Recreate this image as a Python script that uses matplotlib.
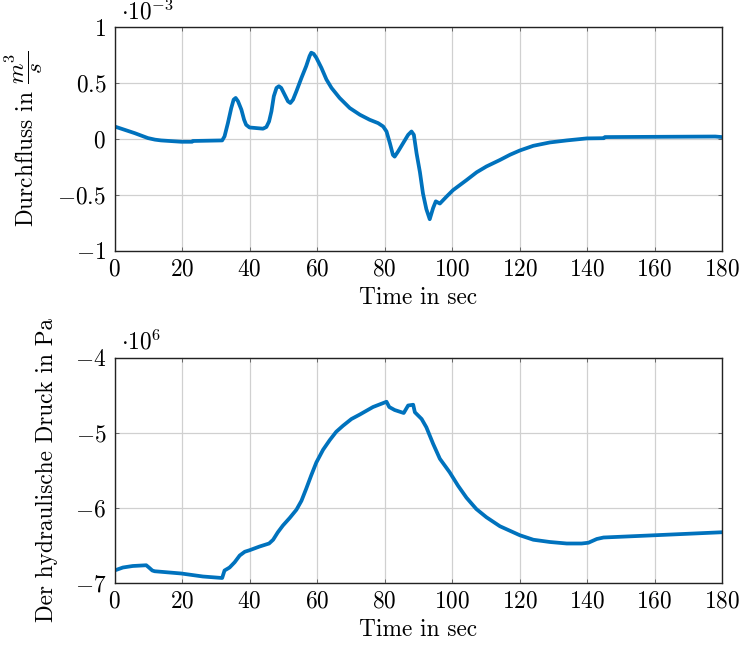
import matplotlib
matplotlib.use("Agg")
import matplotlib.pyplot as plt
from matplotlib.ticker import FuncFormatter

plt.rcParams['font.family'] = 'serif'
plt.rcParams['font.serif'] = ['cmr10']
plt.rcParams['mathtext.fontset'] = 'cm'
plt.rcParams['axes.formatter.use_mathtext'] = True

# Flow rate (units of 1e-3 m^3/s)
t_flow = [0, 3, 6, 9.9, 12.0, 13.8, 19.8, 23.0, 23.2, 31.9, 32.6, 33.6, 34.6, 35.3,
          35.9, 36.6, 37.6, 38.4, 39.0, 40.0, 44.0, 45.0, 45.8, 46.5, 47.2, 48.0,
          48.7, 49.4, 50.4, 51.4, 52.1, 52.9, 53.9, 55.4, 56.8, 57.8, 58.3, 59.0,
          59.8, 61.3, 62.8, 64.3, 66.7, 69.7, 72.7, 75.6, 78.1, 79.6, 80.6, 81.6,
          82.5, 83.0, 84.0, 85.5, 87.0, 88.0, 88.7, 89.5, 90.5, 91.4, 92.4, 93.4,
          94.4, 95.2, 96.4, 98.4, 100.3, 104.3, 107.3, 110.2, 114.2, 117.2, 120.1,
          124.1, 129.0, 134.0, 139.9, 145.0, 145.3, 178.0, 180.0]
flow = [0.11, 0.08, 0.05, 0.006, -0.008, -0.015, -0.027, -0.027, -0.02, -0.015,
        0.021, 0.14, 0.275, 0.35, 0.365, 0.335, 0.26, 0.17, 0.125, 0.101, 0.09,
        0.105, 0.155, 0.245, 0.38, 0.455, 0.47, 0.455, 0.395, 0.335, 0.32, 0.35,
        0.425, 0.545, 0.65, 0.74, 0.77, 0.76, 0.725, 0.635, 0.53, 0.455, 0.365,
        0.275, 0.215, 0.17, 0.14, 0.11, 0.065, -0.04, -0.145, -0.16, -0.115, -0.04,
        0.035, 0.065, 0.035, -0.13, -0.30, -0.49, -0.63, -0.72, -0.62, -0.56, -0.58,
        -0.517, -0.46, -0.37, -0.30, -0.248, -0.19, -0.143, -0.105, -0.063, -0.033,
        -0.015, 0.003, 0.005, 0.015, 0.02, 0.015]

# Hydraulic pressure (units of 1e6 Pa)
t_press = [0, 2.5, 5.4, 9.4, 10.2, 11.2, 11.9, 19.8, 26.2, 31.9, 32.6, 34.1, 35.6,
           37.1, 38.6, 40.0, 43.0, 45.8, 47.0, 48.4, 49.9, 51.9, 53.9, 55.4, 56.8,
           58.3, 59.8, 61.8, 63.8, 65.7, 67.7, 70.2, 72.7, 76.6, 80.6, 81.4, 83.0,
           85.7, 87.0, 88.5, 89.0, 91.0, 92.4, 94.4, 96.4, 99.3, 101.8, 104.3, 107.2,
           110.2, 114.2, 120.1, 124.1, 129.0, 134.0, 138.4, 140.4, 142.9, 144.9,
           160.1, 180.0]
press = [-6.84, -6.80, -6.78, -6.77, -6.80, -6.84, -6.85, -6.88, -6.92, -6.94, -6.84,
         -6.80, -6.73, -6.64, -6.59, -6.57, -6.52, -6.48, -6.43, -6.33, -6.24, -6.14,
         -6.03, -5.91, -5.75, -5.57, -5.40, -5.23, -5.10, -4.99, -4.91, -4.82, -4.76,
         -4.66, -4.59, -4.66, -4.70, -4.74, -4.64, -4.63, -4.73, -4.82, -4.93, -5.15,
         -5.35, -5.53, -5.71, -5.87, -6.02, -6.13, -6.25, -6.37, -6.43, -6.46, -6.48,
         -6.48, -6.47, -6.42, -6.40, -6.37, -6.33]

x_ticks = [0, 20, 40, 60, 80, 100, 120, 140, 160, 180]
flow_ticks = [-1, -0.5, 0, 0.5, 1]
press_ticks = [-7, -6, -5, -4]

color = '#0072BD'
fs = 16.8

W, H = 748, 647
fig = plt.figure(figsize=(W / 100, H / 100), dpi=100)


def fmt(v, pos):
    return r'$' + ('%g' % v) + r'$'


def style(ax):
    ax.grid(True, color='#d0d0d0', linewidth=0.9)
    ax.set_axisbelow(True)
    for sp in ax.spines.values():
        sp.set_color('#222222')
        sp.set_linewidth(1.0)
    ax.tick_params(direction='in', top=True, right=True, length=3,
                   labelsize=fs, color='#555555', width=0.6, pad=6)
    ax.xaxis.set_major_formatter(FuncFormatter(fmt))
    ax.yaxis.set_major_formatter(FuncFormatter(fmt))


ax1 = fig.add_axes([114.5 / W, 1 - 250.5 / H, 607.5 / W, 223.5 / H])
ax1.plot(t_flow, flow, color=color, linewidth=2.7, solid_joinstyle='round',
         solid_capstyle='round')
ax1.set_xlim(0, 180)
ax1.set_ylim(-1, 1)
ax1.set_xticks(x_ticks)
ax1.set_yticks(flow_ticks)
style(ax1)
ax1.set_xlabel('Time in sec', fontsize=fs, labelpad=4)
ax1.set_ylabel(r'Durchfluss in $\dfrac{m^3}{s}$', fontsize=fs, labelpad=9)
fig.text(121 / W, 1 - 12 / H, r'$\cdot 10^{-3}$', fontsize=fs, va='center', ha='left')

ax2 = fig.add_axes([114.5 / W, 1 - 582.5 / H, 607.5 / W, 225 / H])
ax2.plot(t_press, press, color=color, linewidth=2.7, solid_joinstyle='round',
         solid_capstyle='round')
ax2.set_xlim(0, 180)
ax2.set_ylim(-7, -4)
ax2.set_xticks(x_ticks)
ax2.set_yticks(press_ticks)
style(ax2)
ax2.set_xlabel('Time in sec', fontsize=fs, labelpad=4)
ax2.set_ylabel('Der hydraulische Druck in Pa', fontsize=fs, labelpad=12)
fig.text(121 / W, 1 - 342 / H, r'$\cdot 10^{6}$', fontsize=fs, va='center', ha='left')

fig.savefig('out.png', dpi=100)
